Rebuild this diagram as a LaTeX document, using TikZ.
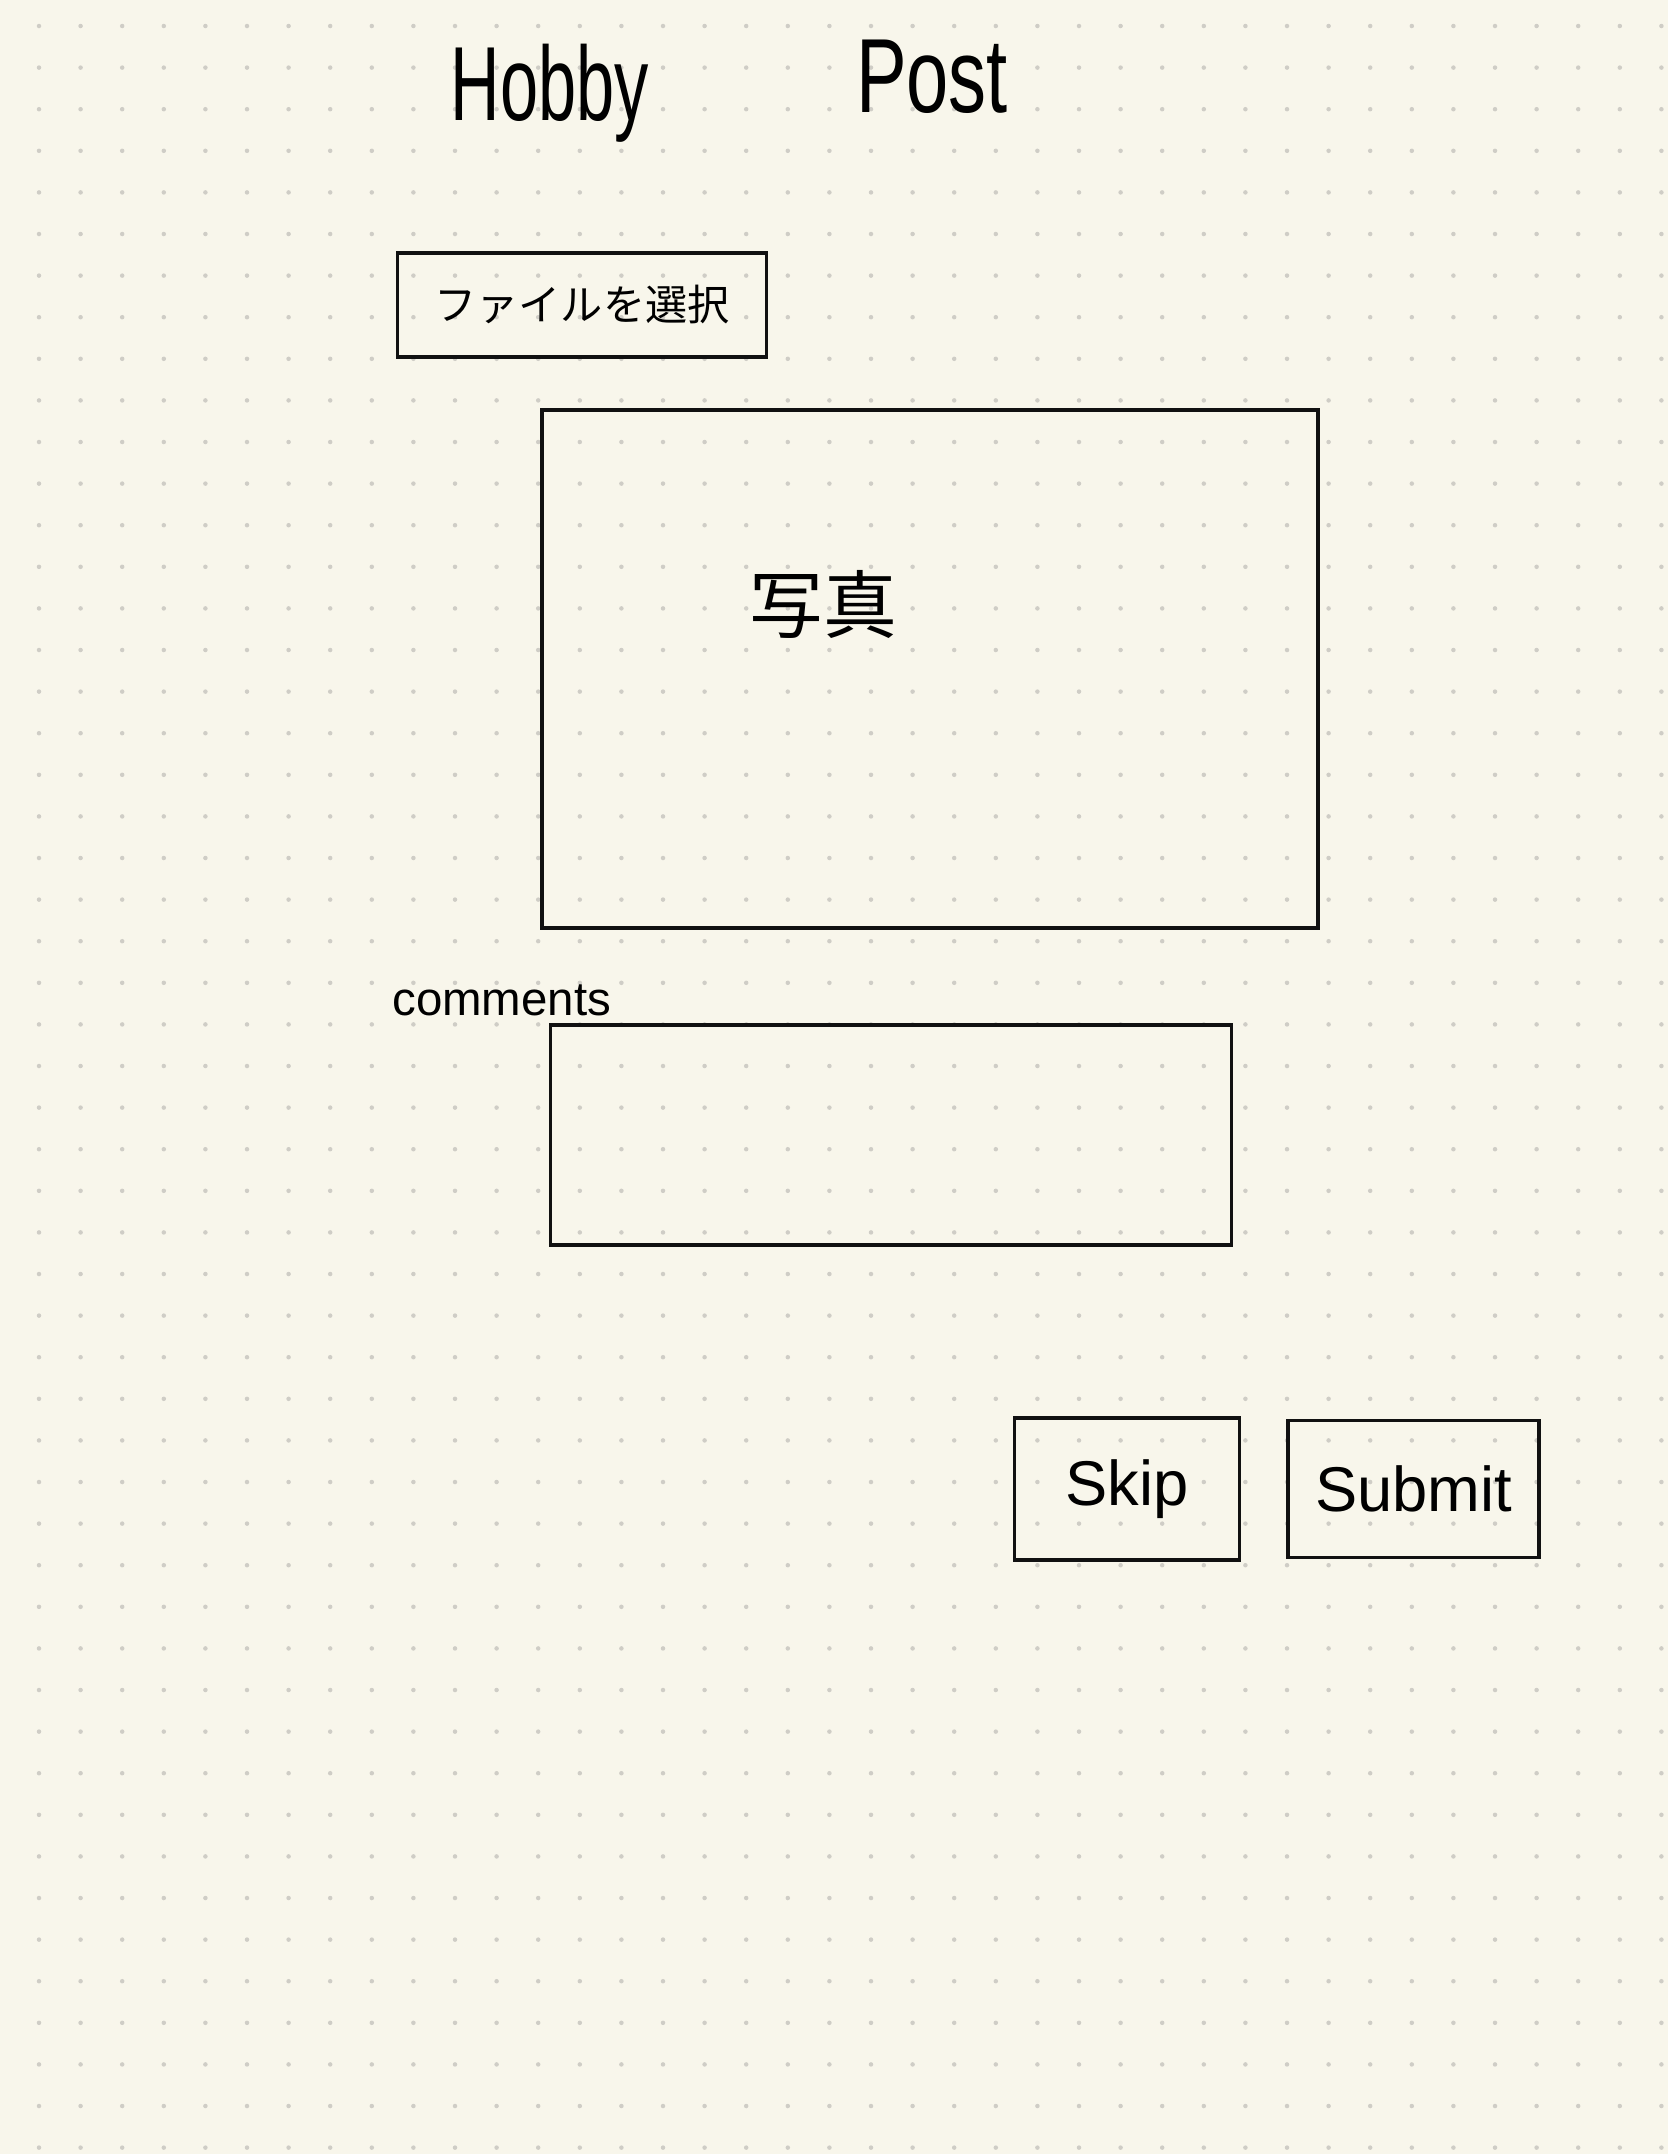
\documentclass[tikz,border=0pt]{standalone}
\usepackage{fontspec}
\setmainfont{Liberation Sans}
\newfontfamily\jpfont{Noto Sans CJK JP}
\usepackage{graphicx}
\usepackage{tikz}
\usetikzlibrary{positioning}
\definecolor{cPaper}{HTML}{F8F6EB}
\definecolor{cDot}{HTML}{CFCDC6}
\definecolor{cInk}{HTML}{111111}

\begin{document}
\begin{tikzpicture}[
  x=0.2mm, y=-0.2mm,
  ink/.style={draw=cInk,line width=0.7mm},
  frame/.style={ink,rectangle,inner sep=0pt},
  btn/.style={frame,font=\fontsize{36}{36}\selectfont},
  title/.style={font=\fontsize{60}{60}\selectfont,anchor=base,inner sep=0pt}
]
% --- paper with dot grid ---
\fill[cPaper] (0,0) rectangle (1668,2154);
\foreach \i in {0,...,39}
  \foreach \j in {0,...,51}
    \fill[cDot] (39+41.6*\i,26+41.6*\j) circle (0.45mm);

% --- heading ---
\node[title] (hobby) at (550,120) {\scalebox{0.65}[1]{Hobby}};
\node[title] (post) at (932,112) {\scalebox{0.72}[1]{Post}};

% --- photo upload ---
\node[frame,minimum width=73.8mm,minimum height=20.8mm,
      font=\jpfont\fontsize{24}{24}\selectfont] (filebtn) at (582,305) {ファイルを選択};
\node[frame,minimum width=155.2mm,minimum height=103.6mm] (photo) at (930,669) {};
\node[font=\jpfont\fontsize{42}{42}\selectfont] (photolbl) at (823,604) {写真};

% --- comments field ---
\node[anchor=base west,inner sep=0pt,font=\fontsize{27}{27}\selectfont] (commentlbl)
     at (392,1015) {comments};
\node[frame,minimum width=136.2mm,minimum height=44mm] (commentbox) at (891,1135) {};

% --- buttons ---
\node[btn,minimum width=45mm,minimum height=28.4mm] (skip) at (1127,1489) {Skip};
\node[btn,minimum width=50.2mm,minimum height=27.4mm,right=9mm of skip] (submit) {Submit};
\end{tikzpicture}
\end{document}
